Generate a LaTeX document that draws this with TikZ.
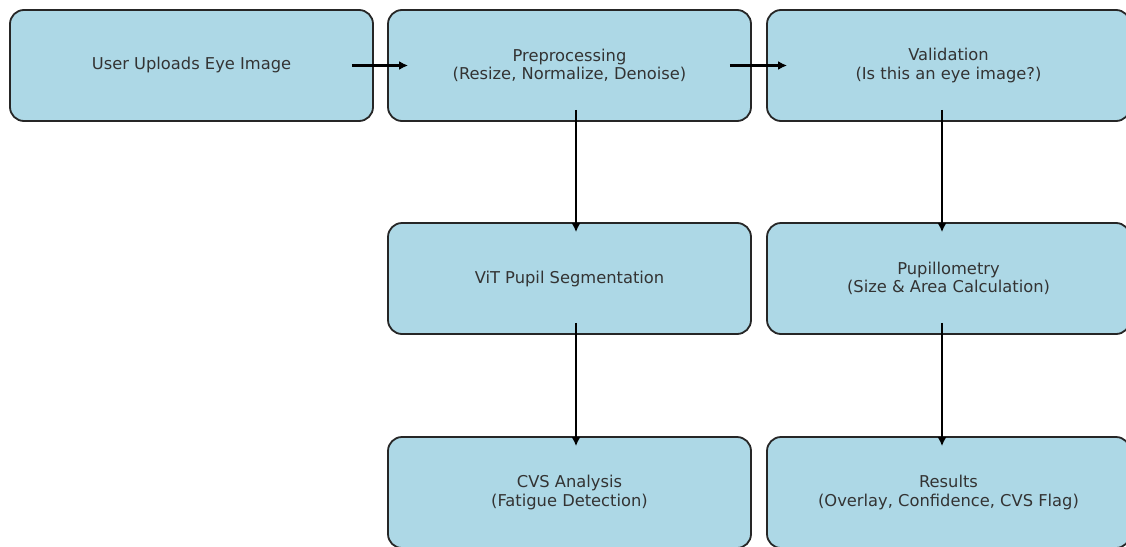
\documentclass[tikz,border=0pt]{standalone}
\usepackage{fontspec}
\setmainfont{DejaVu Sans}
\usepackage{tikz}
\usetikzlibrary{arrows.meta}

\definecolor{boxblue}{HTML}{ADD8E6}
\definecolor{boxtext}{HTML}{333333}

\tikzset{
    stagebox/.style={draw=black!85, line width=1.8pt, fill=boxblue, rounded corners=14pt,
        minimum width=363pt, minimum height=111pt, inner sep=0pt, align=center,
        text=boxtext, font=\fontsize{16.3}{18.5}\selectfont},
    flow/.style={line width=2.6pt, -{Latex[length=9pt,width=9pt]}}
}

\begin{document}
\begin{tikzpicture}[x=1pt, y=-1pt]
    \useasboundingbox (0, 0) rectangle (1126, 546); % page size
    \clip (0, 0) rectangle (1126, 546);
    \node[stagebox] (upload) at (191.5, 65.5) {User Uploads Eye Image};
    \node[stagebox] (prep) at (569.5, 65.5) {Preprocessing\\(Resize, Normalize, Denoise)};
    \node[stagebox] (valid) at (948.5, 65.5) {Validation\\(Is this an eye image?)};
    \node[stagebox] (vit) at (569.5, 278.5) {ViT Pupil Segmentation};
    \node[stagebox] (pupil) at (948.5, 278.5) {Pupillometry\\(Size \& Area Calculation)};
    \node[stagebox] (cvs) at (569.5, 492.5) {CVS Analysis\\(Fatigue Detection)};
    \node[stagebox] (result) at (948.5, 492.5) {Results\\(Overlay, Confidence, CVS Flag)};
    \draw[flow] ([xshift=-22pt]upload.east) -- ([xshift=21pt]prep.west);
    \draw[flow] ([xshift=-22pt]prep.east) -- ([xshift=21pt]valid.west);
    \draw[flow] ([xshift=6.5pt,yshift=12pt]prep.south) -- ([xshift=6.5pt,yshift=-10pt]vit.north);
    \draw[flow] ([xshift=-6.5pt,yshift=12pt]valid.south) -- ([xshift=-6.5pt,yshift=-10pt]pupil.north);
    \draw[flow] ([xshift=6.5pt,yshift=12pt]vit.south) -- ([xshift=6.5pt,yshift=-10pt]cvs.north);
    \draw[flow] ([xshift=-6.5pt,yshift=12pt]pupil.south) -- ([xshift=-6.5pt,yshift=-10pt]result.north);
\end{tikzpicture}
\end{document}
